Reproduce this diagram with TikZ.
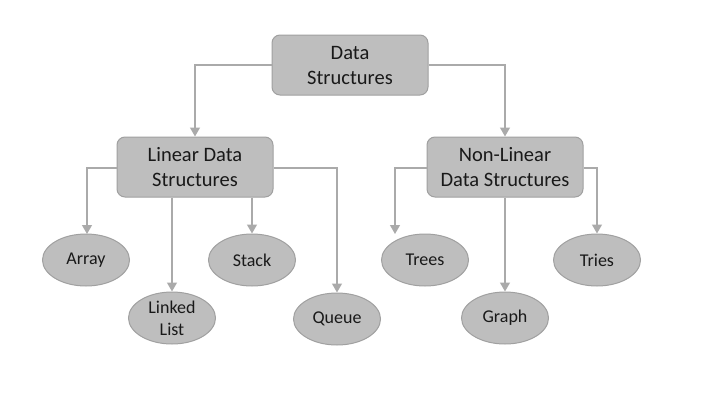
\documentclass[tikz,border=0pt]{standalone}
\usepackage{fontspec}
\setmainfont{Carlito}
\usetikzlibrary{arrows.meta,shapes.geometric}
\definecolor{boxfill}{RGB}{190,190,190}
\definecolor{boxline}{RGB}{160,160,160}
\definecolor{linkc}{RGB}{170,170,170}
\begin{document}
\begin{tikzpicture}[x=1pt,y=-1pt,
  rbox/.style={draw=boxline,fill=boxfill,line width=1pt,rounded corners=8pt,
    minimum width=156pt,minimum height=60pt,inner sep=0pt,align=center,
    font=\fontsize{20.5}{25}\selectfont,text=black!90},
  oval/.style={ellipse,draw=boxline,fill=boxfill,line width=1pt,
    minimum width=87pt,minimum height=52pt,inner sep=0pt,align=center,
    font=\fontsize{18}{22}\selectfont,text=black!90},
  link/.style={draw=linkc,line width=1.2pt,-{Triangle[width=10pt,length=9pt]}}]
\useasboundingbox (0,0) rectangle (701,399);
\node[rbox] (ds) at (350,65) {Data\\Structures};
\node[rbox] (lin) at (195,167) {Linear Data\\Structures};
\node[rbox] (nl) at (505,167) {Non-Linear\\Data Structures};
\node[oval] (arr) at (86,260) {Array};
\node[oval] (ll) at (172,318) {Linked\\List};
\node[oval] (st) at (252,260) {Stack};
\node[oval] (qu) at (337,319) {Queue};
\node[oval] (tr) at (425,260) {Trees};
\node[oval] (gr) at (505,318) {Graph};
\node[oval] (ti) at (597,260) {Tries};
\draw[link] (ds.west) -| (lin.north);
\draw[link] (ds.east) -| (nl.north);
\draw[link] (lin.west |- 0,168) -| (87,234);
\draw[link] (ll.north |- lin.south) -- (ll.north);
\draw[link] (st.north |- lin.south) -- (st.north);
\draw[link] (lin.east |- 0,168) -| (qu.north);
\draw[link] (nl.west |- 0,168) -| (395,234);
\draw[link] (gr.north |- nl.south) -- (gr.north);
\draw[link] (nl.east |- 0,168) -| (ti.north);
\end{tikzpicture}
\end{document}
